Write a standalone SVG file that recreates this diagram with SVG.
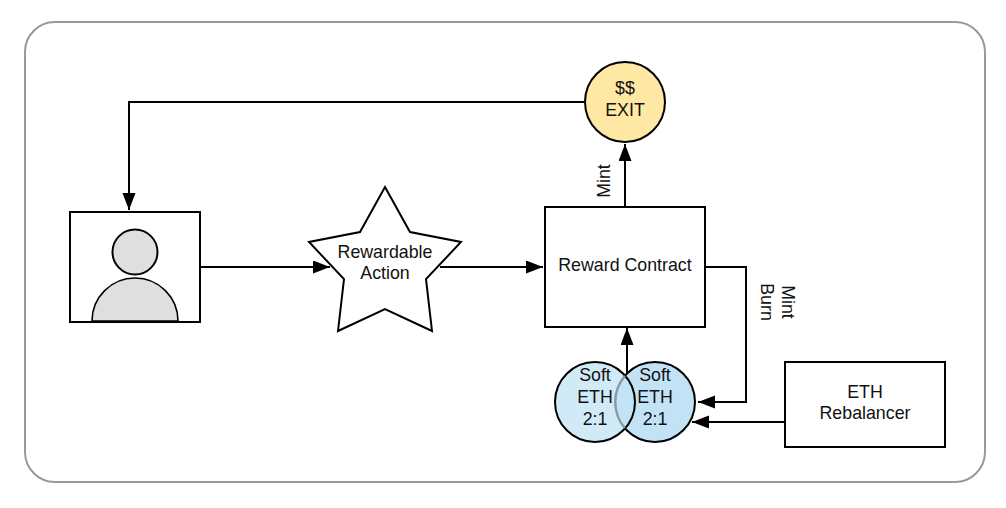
<svg xmlns="http://www.w3.org/2000/svg" width="1006" height="508" viewBox="0 0 1006 508">
<style>
text{font-family:"Liberation Sans",Arial,sans-serif;font-size:17.8px;fill:#111;text-anchor:middle}
.n{stroke:#000;stroke-width:2;fill:#fff}
.c{fill:none;stroke:#000;stroke-width:2}
</style>
<defs>
<marker id="a" markerUnits="userSpaceOnUse" markerWidth="18" markerHeight="14" refX="17" refY="6.5" orient="auto"><path d="M0 0L17 6.5L0 13Z" fill="#000"/></marker>
</defs>
<rect width="1006" height="508" fill="#fff"/>
<rect id="frame" x="25" y="22" width="960" height="460" rx="30" fill="#fff" stroke="#999" stroke-width="2"/>
<g id="connectors">
<path class="c" d="M585 102H129V210" marker-end="url(#a)"/>
<path class="c" d="M201 267H330" marker-end="url(#a)"/>
<path class="c" d="M440 267H543" marker-end="url(#a)"/>
<path class="c" d="M625 207V144" marker-end="url(#a)"/>
<path class="c" d="M627 374V328" marker-end="url(#a)"/>
<path class="c" d="M706 267H746V402H698" marker-end="url(#a)"/>
<path class="c" d="M785 422H692" marker-end="url(#a)"/>
</g>
<g id="exit"><circle cx="625" cy="102" r="40" fill="#ffe8a3" stroke="#000" stroke-width="2"/><text x="625" y="94">$$</text><text x="625" y="116">EXIT</text></g>
<g id="user"><rect class="n" x="70" y="212" width="130" height="110"/><circle cx="135" cy="252" r="22.5" fill="#dfdfdf" stroke="#000" stroke-width="2"/><path d="M92 321A43 43 0 0 1 178 321Z" fill="#dfdfdf" stroke="#000" stroke-width="1.6"/></g>
<g id="action"><path class="n" d="M385 187L410 232L461 242L426 279L432 331L385 309L338 331L344 279L309 242L360 232Z"/><text x="385" y="258">Rewardable</text><text x="385" y="279">Action</text></g>
<g id="contract"><rect class="n" x="545" y="207" width="160" height="120"/><text x="625" y="271">Reward Contract</text></g>
<g id="soft2"><circle cx="655" cy="402" r="40" fill="#c2e3f6" stroke="#000" stroke-width="2"/><text x="655" y="381">Soft</text><text x="655" y="403">ETH</text><text x="655" y="425">2:1</text></g>
<g id="soft1"><circle cx="595" cy="402" r="40" fill="#c2e3f6" fill-opacity=".75" stroke="#000" stroke-width="2"/><text x="595" y="381">Soft</text><text x="595" y="403">ETH</text><text x="595" y="425">2:1</text><path d="M625 376A40 40 0 0 0 625 428" fill="none" stroke="#8a9aa3" stroke-width="2"/></g>
<g id="rebalancer"><rect class="n" x="785" y="362" width="160" height="85"/><text x="865" y="398">ETH</text><text x="865" y="419">Rebalancer</text></g>
<g id="labels">
<text transform="translate(610 181) rotate(-90)">Mint</text>
<text transform="translate(782 302) rotate(90)">Mint</text>
<text transform="translate(761 302) rotate(90)">Burn</text>
</g>
</svg>
